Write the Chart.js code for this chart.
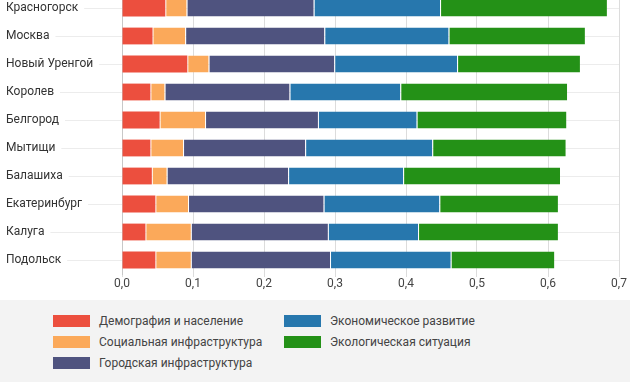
<!DOCTYPE html>
<html>
<head>
<meta charset="utf-8">
<script src="https://cdn.jsdelivr.net/npm/chart.js@4.4.1/dist/chart.umd.min.js"></script>
<style>
  html, body { margin: 0; padding: 0; width: 630px; height: 382px; overflow: hidden; background: #fff; font-family: Roboto, "Noto Sans", sans-serif; }
  #wrap { position: absolute; left: 0; top: -20px; width: 630px; height: 320px; }
  #legend { position: absolute; left: 0; top: 300px; width: 630px; height: 82px; background: #f3f3f3; }
  .item { position: absolute; height: 14px; font-size: 12px; color: #444; line-height: 14px; }
  .item .box { position: absolute; left: 0; top: 1px; width: 37px; height: 12px; }
  .item .lbl { position: absolute; left: 46px; top: 0; white-space: nowrap; }
</style>
</head>
<body>
<div id="wrap"><canvas id="c"></canvas></div>
<div id="legend"></div>
<script>
const categories = ['Красногорск','Москва','Новый Уренгой','Королев','Белгород','Мытищи','Балашиха','Екатеринбург','Калуга','Подольск'];
const seriesNames = ['Демография и население','Социальная инфраструктура','Городская инфраструктура','Экономическое развитие','Экологическая ситуация'];
const demography = [0.061, 0.043, 0.092, 0.040, 0.053, 0.040, 0.042, 0.047, 0.033, 0.047];
const social     = [0.030, 0.046, 0.030, 0.020, 0.064, 0.046, 0.021, 0.046, 0.064, 0.050];
const urban      = [0.179, 0.196, 0.177, 0.176, 0.159, 0.172, 0.171, 0.191, 0.193, 0.196];
const economy    = [0.178, 0.175, 0.173, 0.156, 0.139, 0.179, 0.162, 0.163, 0.127, 0.170];
const ecology    = [0.235, 0.192, 0.173, 0.235, 0.211, 0.188, 0.221, 0.167, 0.197, 0.146];
const xTickLabels = ['0,0','0,1','0,2','0,3','0,4','0,5','0,6','0,7'];
const colors = ['#ec4f3e', '#fba95a', '#4f537f', '#2777ad', '#249117'];

const seriesValues = [demography, social, urban, economy, ecology];
const datasets = seriesValues.map((vals, i) => ({
  label: seriesNames[i],
  data: vals,
  backgroundColor: colors[i],
  borderColor: 'rgba(255,255,255,0.85)',
  borderWidth: { left: i > 0 ? 1 : 0, right: 0, top: 0, bottom: 0 },
  borderSkipped: false,
  barPercentage: 1,
  categoryPercentage: 0.6
}));

new Chart(document.getElementById('c'), {
  type: 'bar',
  data: { labels: categories, datasets },
  options: {
    indexAxis: 'y',
    responsive: true,
    maintainAspectRatio: false,
    animation: false,
    layout: { padding: { top: 14, left: 6, right: 11, bottom: 0 } },
    plugins: { legend: { display: false }, tooltip: { enabled: false } },
    scales: {
      x: {
        stacked: true,
        min: 0, max: 0.7,
        ticks: {
          stepSize: 0.1,
          padding: 0,
          color: '#444',
          font: { family: 'Roboto', size: 12 },
          callback: (v, i) => xTickLabels[i]
        },
        grid: { color: '#dcdcdc', tickColor: '#dcdcdc', tickLength: 3, drawTicks: true },
        border: { display: false },
        afterFit: (s) => { s.height = 26; }
      },
      y: {
        stacked: true,
        ticks: {
          crossAlign: 'far',
          padding: 0,
          color: '#333',
          font: { family: 'Roboto', size: 12 },
          showLabelBackdrop: true,
          backdropColor: '#ffffff',
          backdropPadding: { left: 0, right: 6, top: 2, bottom: 2 }
        },
        grid: { offset: false, color: '#ececec', tickColor: '#ececec', tickLength: 110, drawTicks: true },
        border: { display: true, color: '#c8c8c8' },
        afterFit: (s) => { s.width = 116; }
      }
    }
  }
});

// HTML legend in two columns (column-major order)
const legend = document.getElementById('legend');
const pos = [[53, 14], [53, 35], [53, 56], [284, 14], [284, 35]];
seriesNames.forEach((name, i) => {
  const d = document.createElement('div');
  d.className = 'item';
  d.style.left = pos[i][0] + 'px';
  d.style.top = (pos[i][1]) + 'px';
  d.innerHTML = '<div class="box" style="background:' + colors[i] + '"></div><div class="lbl">' + name + '</div>';
  legend.appendChild(d);
});
</script>
</body>
</html>
